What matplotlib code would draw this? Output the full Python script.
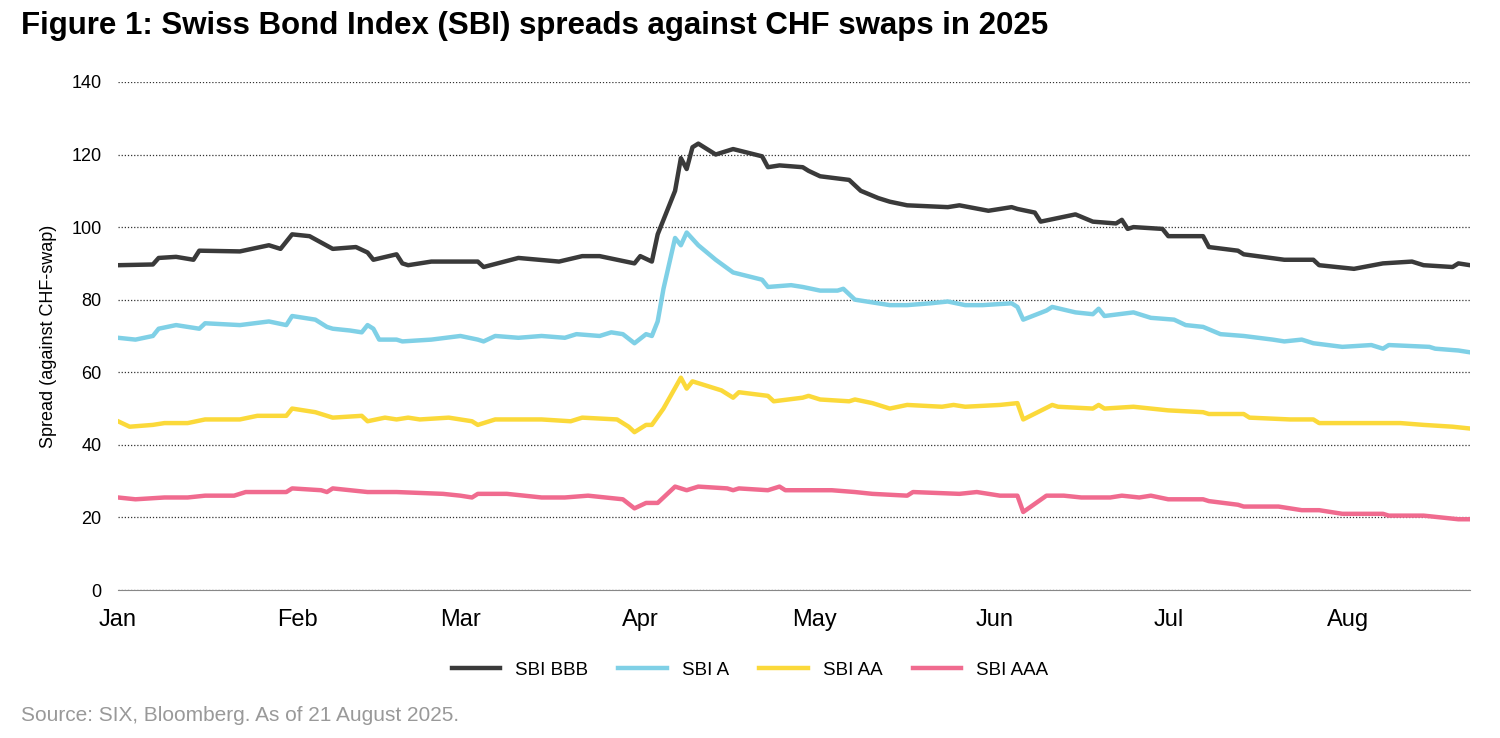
import matplotlib
matplotlib.use("Agg")
import matplotlib.pyplot as plt
import numpy as np

plt.rcParams['font.family'] = ['Liberation Sans', 'DejaVu Sans']

start = np.datetime64('2025-01-01')
bbb_days = [0,6,7,10,13,14,21,26,28,30,33,37,41,43,44,48,49,50,54,62,63,69,76,80,83,86,89,90,92,93,96,97,98,99,100,102,103,106,111,112,114,118,119,121,126,128,131,133,136,143,145,150,154,155,158,159,165,168,172,173,174,175,180,181,187,188,193,194,201,206,207,213,218,223,225,230,231,233]
bbb_vals = [89.5,89.7,91.5,91.8,91,93.5,93.3,95,94,98,97.5,94,94.5,93,91,92.5,90,89.5,90.5,90.5,89,91.5,90.5,92,92,91,90,92,90.5,98,110,119,116,122,123,121,120,121.5,119.5,116.5,117,116.5,115.5,114,113,110,108,107,106,105.5,106,104.5,105.5,105,104,101.5,103.5,101.5,101,102,99.5,100,99.5,97.5,97.5,94.5,93.5,92.5,91,91,89.5,88.5,90,90.5,89.5,89,90,89.5]
a_days = [0,3,6,7,10,14,15,21,26,29,30,34,36,37,40,42,43,44,45,48,49,54,59,62,63,65,69,73,77,79,83,85,87,89,91,92,93,94,96,97,98,100,103,106,111,112,116,118,121,124,125,127,131,133,136,140,143,146,149,154,155,156,160,161,165,168,169,170,175,178,182,184,187,190,194,199,201,204,206,211,216,218,219,226,227,231,233]
a_vals = [69.5,69,70,72,73,72,73.5,73,74,73,75.5,74.5,72.5,72,71.5,71,73,72,69,69,68.5,69,70,69,68.5,70,69.5,70,69.5,70.5,70,71,70.5,68,70.5,70,74,83,97,95,98.5,95,91,87.5,85.5,83.5,84,83.5,82.5,82.5,83,80,79,78.5,78.5,79,79.5,78.5,78.5,79,78,74.5,77,78,76.5,76,77.5,75.5,76.5,75,74.5,73,72.5,70.5,70,69,68.5,69,68,67,67.5,66.5,67.5,67,66.5,66,65.5]
aa_days = [0,2,6,8,12,15,21,24,29,30,34,37,42,43,46,48,50,52,57,61,62,65,73,78,80,86,88,89,91,92,94,97,98,99,100,104,106,107,112,113,118,119,121,126,127,130,133,136,142,144,146,152,155,156,161,162,168,169,170,175,181,187,188,194,195,202,206,207,213,221,225,230,233]
aa_vals = [46.5,45,45.5,46,46,47,47,48,48,50,49,47.5,48,46.5,47.5,47,47.5,47,47.5,46.5,45.5,47,47,46.5,47.5,47,45,43.5,45.5,45.5,50,58.5,55.5,57.5,57,55,53,54.5,53.5,52,53,53.5,52.5,52,52.5,51.5,50,51,50.5,51,50.5,51,51.5,47,51,50.5,50,51,50,50.5,49.5,49,48.5,48.5,47.5,47,47,46,46,46,45.5,45,44.5]
aaa_days = [0,3,8,12,15,20,22,29,30,35,36,37,43,44,48,56,59,61,62,67,73,77,81,87,89,91,93,96,98,100,105,106,107,112,114,115,119,123,127,130,136,137,145,148,152,155,156,160,163,166,171,173,176,178,181,187,188,193,194,200,204,207,211,218,219,225,228,231,233]
aaa_vals = [25.5,25,25.5,25.5,26,26,27,27,28,27.5,27,28,27,27,27,26.5,26,25.5,26.5,26.5,25.5,25.5,26,25,22.5,24,24,28.5,27.5,28.5,28,27.5,28,27.5,28.5,27.5,27.5,27.5,27,26.5,26,27,26.5,27,26,26,21.5,26,26,25.5,25.5,26,25.5,26,25,25,24.5,23.5,23,23,22,22,21,21,20.5,20.5,20,19.5,19.5]

series = [("SBI BBB", bbb_days, bbb_vals, "#3a3a3a"),
          ("SBI A", a_days, a_vals, "#7fd0e6"),
          ("SBI AA", aa_days, aa_vals, "#fbd93a"),
          ("SBI AAA", aaa_days, aaa_vals, "#f06b8f")]
month_labels = ["Jan","Feb","Mar","Apr","May","Jun","Jul","Aug"]

fig = plt.figure(figsize=(15, 7.38), dpi=100)
ax = fig.add_axes([0.0787, 0.2005, 0.9013, 0.6885])
for name, d, v, c in series:
    x = start + np.array(d).astype('timedelta64[D]')
    ax.plot(x, v, color=c, lw=3.2, label=name, solid_joinstyle='round')

ax.set_ylim(0, 140)
ax.set_yticks(range(0, 141, 20))
ax.set_xlim(start, np.datetime64('2025-08-22'))
ticks = [np.datetime64(f'2025-{m:02d}-01') for m in range(1, 9)]
ax.set_xticks(ticks)
ax.set_xticklabels(month_labels, fontsize=17)
ax.tick_params(axis='y', labelsize=13, length=0, pad=12)
ax.tick_params(axis='x', length=0, pad=14)
ax.grid(axis='y', linestyle=(0, (1, 1.5)), color='#333333', lw=0.9)
for s in ['top', 'right', 'left']:
    ax.spines[s].set_visible(False)
ax.spines['bottom'].set_color('#888888')
ax.set_ylabel("Spread (against CHF-swap)", fontsize=13, labelpad=10)

fig.text(0.014, 0.985, "Figure 1: Swiss Bond Index (SBI) spreads against CHF swaps in 2025",
         fontsize=22.5, fontweight='bold', va='top')
fig.legend(loc='center', bbox_to_anchor=(0.5, 0.092), ncol=4, frameon=False,
           fontsize=13.5, handlelength=2.6, columnspacing=1.6)
fig.text(0.014, 0.018, "Source: SIX, Bloomberg. As of 21 August 2025.", fontsize=15,
         color='#999999', va='bottom')
fig.savefig("out.png", dpi=100)
